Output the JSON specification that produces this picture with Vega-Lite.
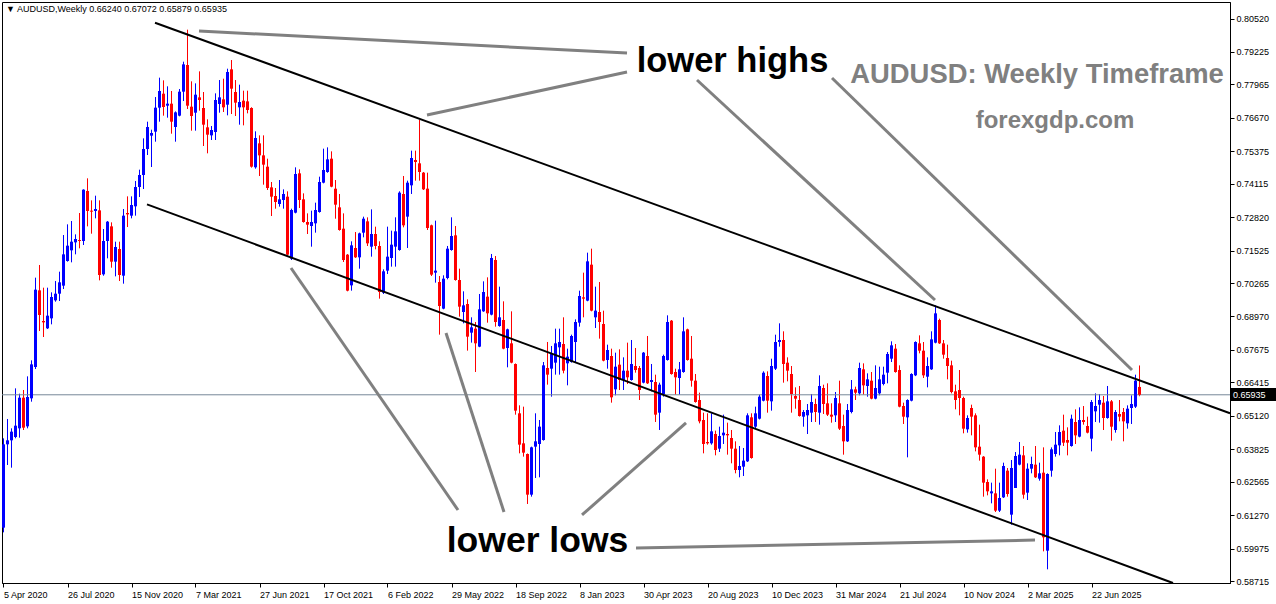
{
"$schema": "https://vega.github.io/schema/vega-lite/v6.json",
"width": 1228, "height": 581,
"autosize": {"type": "none"},
"padding": {"left": 2, "top": 2, "right": 46, "bottom": 21},
"background": "white",
"config": {"view": {"stroke": "black", "strokeWidth": 1}, "font": "Liberation Sans",
"axisX": {"grid": false, "format": "%-d %b %Y", "labelAlign": "left", "labelBaseline": "top", "labelFont": "Liberation Sans", "labelFontSize": 9, "labelColor": "black", "tickColor": "black", "domainColor": "black", "tickSize": 4, "labelPadding": 3, "labelOverlap": false, "labelFlush": false, "title": null},
"axisY": {"grid": false, "format": ".5f", "labelFont": "Liberation Sans", "labelFontSize": 9, "labelColor": "black", "tickColor": "black", "domainColor": "black", "tickSize": 4, "labelPadding": 2, "labelOverlap": false, "labelFlush": false, "title": null}
},
"datasets": {
"candles": [
{"date":"2020-04-05","open":0.60785,"high":0.64247,"low":0.60604,"close":0.64015},
{"date":"2020-04-12","open":0.64015,"high":0.64997,"low":0.63214,"close":0.64170},
{"date":"2020-04-19","open":0.64170,"high":0.64635,"low":0.63110,"close":0.64506},
{"date":"2020-04-26","open":0.64299,"high":0.66185,"low":0.64250,"close":0.64738},
{"date":"2020-05-03","open":0.64635,"high":0.65978,"low":0.64273,"close":0.65823},
{"date":"2020-05-10","open":0.65823,"high":0.66121,"low":0.64570,"close":0.64661},
{"date":"2020-05-17","open":0.64712,"high":0.66650,"low":0.64635,"close":0.65849},
{"date":"2020-05-24","open":0.65798,"high":0.67270,"low":0.65668,"close":0.67115},
{"date":"2020-05-31","open":0.67012,"high":0.70475,"low":0.66935,"close":0.70010},
{"date":"2020-06-07","open":0.69984,"high":0.70966,"low":0.68407,"close":0.69028},
{"date":"2020-06-14","open":0.68795,"high":0.70087,"low":0.68175,"close":0.68743},
{"date":"2020-06-21","open":0.68511,"high":0.70087,"low":0.68485,"close":0.69002},
{"date":"2020-06-28","open":0.68898,"high":0.69906,"low":0.68666,"close":0.69725},
{"date":"2020-07-05","open":0.69596,"high":0.70345,"low":0.69544,"close":0.69854},
{"date":"2020-07-12","open":0.69854,"high":0.70707,"low":0.69570,"close":0.70294},
{"date":"2020-07-19","open":0.70165,"high":0.72128,"low":0.70035,"close":0.71379},
{"date":"2020-07-26","open":0.71121,"high":0.72542,"low":0.71095,"close":0.71715},
{"date":"2020-08-02","open":0.71534,"high":0.72671,"low":0.71069,"close":0.71870},
{"date":"2020-08-09","open":0.71844,"high":0.72154,"low":0.71379,"close":0.71973},
{"date":"2020-08-16","open":0.71935,"high":0.72981,"low":0.71612,"close":0.71896},
{"date":"2020-08-23","open":0.71896,"high":0.73900,"low":0.71741,"close":0.73886},
{"date":"2020-08-30","open":0.73834,"high":0.74325,"low":0.72464,"close":0.73059},
{"date":"2020-09-06","open":0.73072,"high":0.73472,"low":0.72180,"close":0.73033},
{"date":"2020-09-13","open":0.73059,"high":0.73653,"low":0.72774,"close":0.73136},
{"date":"2020-09-20","open":0.73084,"high":0.73472,"low":0.70371,"close":0.70578},
{"date":"2020-09-27","open":0.70604,"high":0.72361,"low":0.70550,"close":0.71896},
{"date":"2020-10-04","open":0.71896,"high":0.72671,"low":0.71224,"close":0.72645},
{"date":"2020-10-11","open":0.72464,"high":0.72619,"low":0.70862,"close":0.71095},
{"date":"2020-10-18","open":0.71095,"high":0.71870,"low":0.70526,"close":0.71663},
{"date":"2020-10-25","open":0.71586,"high":0.71870,"low":0.70345,"close":0.70578},
{"date":"2020-11-01","open":0.70552,"high":0.73136,"low":0.70242,"close":0.72878},
{"date":"2020-11-08","open":0.72981,"high":0.73627,"low":0.72438,"close":0.72929},
{"date":"2020-11-15","open":0.72878,"high":0.73627,"low":0.72774,"close":0.73291},
{"date":"2020-11-22","open":0.73240,"high":0.74221,"low":0.72878,"close":0.73989},
{"date":"2020-11-29","open":0.73989,"high":0.74661,"low":0.73601,"close":0.74454},
{"date":"2020-12-06","open":0.74454,"high":0.75875,"low":0.73911,"close":0.75462},
{"date":"2020-12-13","open":0.75462,"high":0.76521,"low":0.75229,"close":0.76314},
{"date":"2020-12-20","open":0.75979,"high":0.76211,"low":0.74764,"close":0.76082},
{"date":"2020-12-27","open":0.76134,"high":0.77477,"low":0.75746,"close":0.77064},
{"date":"2021-01-03","open":0.77064,"high":0.78227,"low":0.76521,"close":0.77710},
{"date":"2021-01-10","open":0.77606,"high":0.78123,"low":0.76754,"close":0.77090},
{"date":"2021-01-17","open":0.77141,"high":0.77891,"low":0.76676,"close":0.77219},
{"date":"2021-01-24","open":0.77219,"high":0.77710,"low":0.76056,"close":0.76521},
{"date":"2021-01-31","open":0.76314,"high":0.76920,"low":0.75746,"close":0.76883},
{"date":"2021-02-07","open":0.76754,"high":0.77787,"low":0.76728,"close":0.77684},
{"date":"2021-02-14","open":0.77684,"high":0.78847,"low":0.77322,"close":0.78743},
{"date":"2021-02-21","open":0.78718,"high":0.80087,"low":0.77012,"close":0.77141},
{"date":"2021-02-28","open":0.77103,"high":0.78085,"low":0.76172,"close":0.76741},
{"date":"2021-03-07","open":0.76870,"high":0.78007,"low":0.76172,"close":0.77568},
{"date":"2021-03-14","open":0.77464,"high":0.78472,"low":0.76948,"close":0.77361},
{"date":"2021-03-21","open":0.77051,"high":0.77671,"low":0.75578,"close":0.76405},
{"date":"2021-03-28","open":0.76302,"high":0.76612,"low":0.75294,"close":0.76017},
{"date":"2021-04-04","open":0.75991,"high":0.76353,"low":0.75811,"close":0.76198},
{"date":"2021-04-11","open":0.76121,"high":0.77619,"low":0.75811,"close":0.77361},
{"date":"2021-04-18","open":0.77206,"high":0.78136,"low":0.76870,"close":0.77464},
{"date":"2021-04-25","open":0.77387,"high":0.78188,"low":0.76896,"close":0.77077},
{"date":"2021-05-02","open":0.77180,"high":0.78575,"low":0.76767,"close":0.78446},
{"date":"2021-05-09","open":0.78550,"high":0.78911,"low":0.76818,"close":0.77800},
{"date":"2021-05-16","open":0.77671,"high":0.78136,"low":0.76741,"close":0.77258},
{"date":"2021-05-23","open":0.77077,"high":0.77955,"low":0.76405,"close":0.77283},
{"date":"2021-05-30","open":0.77335,"high":0.77723,"low":0.76379,"close":0.77077},
{"date":"2021-06-06","open":0.77309,"high":0.77723,"low":0.76844,"close":0.76973},
{"date":"2021-06-13","open":0.77051,"high":0.77080,"low":0.74740,"close":0.74777},
{"date":"2021-06-20","open":0.74751,"high":0.76147,"low":0.74699,"close":0.75888},
{"date":"2021-06-27","open":0.75681,"high":0.75991,"low":0.74415,"close":0.75216},
{"date":"2021-07-04","open":0.75216,"high":0.75991,"low":0.74079,"close":0.74855},
{"date":"2021-07-11","open":0.74777,"high":0.75087,"low":0.73873,"close":0.73950},
{"date":"2021-07-18","open":0.73976,"high":0.74183,"low":0.72865,"close":0.73614},
{"date":"2021-07-25","open":0.73640,"high":0.73950,"low":0.73149,"close":0.73407},
{"date":"2021-08-01","open":0.73330,"high":0.74260,"low":0.73227,"close":0.73511},
{"date":"2021-08-08","open":0.73485,"high":0.73898,"low":0.73149,"close":0.73718},
{"date":"2021-08-15","open":0.73614,"high":0.73821,"low":0.71340,"close":0.71366},
{"date":"2021-08-22","open":0.71211,"high":0.73149,"low":0.71159,"close":0.73097},
{"date":"2021-08-29","open":0.72994,"high":0.74751,"low":0.72968,"close":0.74493},
{"date":"2021-09-05","open":0.74519,"high":0.74674,"low":0.73175,"close":0.73485},
{"date":"2021-09-12","open":0.73511,"high":0.73743,"low":0.72606,"close":0.72632},
{"date":"2021-09-19","open":0.72632,"high":0.72968,"low":0.72167,"close":0.72529},
{"date":"2021-09-26","open":0.72477,"high":0.73072,"low":0.71676,"close":0.72632},
{"date":"2021-10-03","open":0.72581,"high":0.73382,"low":0.72219,"close":0.73097},
{"date":"2021-10-10","open":0.73020,"high":0.74389,"low":0.72994,"close":0.74183},
{"date":"2021-10-17","open":0.74157,"high":0.75475,"low":0.74131,"close":0.74648},
{"date":"2021-10-24","open":0.74570,"high":0.75526,"low":0.74540,"close":0.75061},
{"date":"2021-10-31","open":0.75087,"high":0.75371,"low":0.73980,"close":0.74002},
{"date":"2021-11-07","open":0.73924,"high":0.74260,"low":0.72761,"close":0.73304},
{"date":"2021-11-14","open":0.73201,"high":0.73718,"low":0.72296,"close":0.72322},
{"date":"2021-11-21","open":0.72374,"high":0.72968,"low":0.71082,"close":0.71159},
{"date":"2021-11-28","open":0.71366,"high":0.71390,"low":0.69945,"close":0.69971},
{"date":"2021-12-05","open":0.70177,"high":0.71883,"low":0.69971,"close":0.71728},
{"date":"2021-12-12","open":0.71625,"high":0.72245,"low":0.71240,"close":0.71263},
{"date":"2021-12-19","open":0.71263,"high":0.72220,"low":0.70823,"close":0.72193},
{"date":"2021-12-26","open":0.72219,"high":0.72839,"low":0.72038,"close":0.72761},
{"date":"2022-01-02","open":0.72658,"high":0.72813,"low":0.71702,"close":0.71805},
{"date":"2022-01-09","open":0.71676,"high":0.73123,"low":0.71289,"close":0.72167},
{"date":"2022-01-16","open":0.72167,"high":0.72451,"low":0.71573,"close":0.71702},
{"date":"2022-01-23","open":0.71703,"high":0.71884,"low":0.69661,"close":0.69920},
{"date":"2022-01-30","open":0.69894,"high":0.70798,"low":0.69842,"close":0.70721},
{"date":"2022-02-06","open":0.70747,"high":0.72452,"low":0.70617,"close":0.71289},
{"date":"2022-02-13","open":0.71238,"high":0.72297,"low":0.70902,"close":0.71754},
{"date":"2022-02-20","open":0.71677,"high":0.72814,"low":0.70902,"close":0.72271},
{"date":"2022-02-27","open":0.71548,"high":0.73822,"low":0.71520,"close":0.73770},
{"date":"2022-03-06","open":0.73718,"high":0.74416,"low":0.72426,"close":0.72504},
{"date":"2022-03-13","open":0.72840,"high":0.74235,"low":0.71625,"close":0.74157},
{"date":"2022-03-20","open":0.74054,"high":0.75398,"low":0.73718,"close":0.75114},
{"date":"2022-03-27","open":0.75036,"high":0.75398,"low":0.74235,"close":0.74958},
{"date":"2022-04-03","open":0.74907,"high":0.76586,"low":0.74235,"close":0.74571},
{"date":"2022-04-10","open":0.74545,"high":0.74571,"low":0.73873,"close":0.73899},
{"date":"2022-04-17","open":0.73925,"high":0.74545,"low":0.72323,"close":0.72400},
{"date":"2022-04-24","open":0.72504,"high":0.72530,"low":0.70540,"close":0.70592},
{"date":"2022-05-01","open":0.70669,"high":0.72685,"low":0.70281,"close":0.70747},
{"date":"2022-05-08","open":0.70307,"high":0.70540,"low":0.68266,"close":0.69377},
{"date":"2022-05-15","open":0.69274,"high":0.70566,"low":0.69250,"close":0.70436},
{"date":"2022-05-22","open":0.70462,"high":0.71703,"low":0.70411,"close":0.71599},
{"date":"2022-05-29","open":0.71548,"high":0.72814,"low":0.71520,"close":0.72090},
{"date":"2022-06-05","open":0.72116,"high":0.72478,"low":0.70359,"close":0.70385},
{"date":"2022-06-12","open":0.70385,"high":0.70824,"low":0.68964,"close":0.69351},
{"date":"2022-06-19","open":0.69144,"high":0.69946,"low":0.68705,"close":0.69403},
{"date":"2022-06-26","open":0.69455,"high":0.69635,"low":0.67646,"close":0.68188},
{"date":"2022-07-03","open":0.68343,"high":0.68938,"low":0.67956,"close":0.68550},
{"date":"2022-07-10","open":0.68498,"high":0.68757,"low":0.66819,"close":0.67930},
{"date":"2022-07-17","open":0.67801,"high":0.69842,"low":0.67780,"close":0.69248},
{"date":"2022-07-24","open":0.69170,"high":0.70333,"low":0.69150,"close":0.69920},
{"date":"2022-07-31","open":0.69739,"high":0.70488,"low":0.68731,"close":0.69093},
{"date":"2022-08-07","open":0.69041,"high":0.71393,"low":0.69015,"close":0.71238},
{"date":"2022-08-14","open":0.71160,"high":0.71315,"low":0.68576,"close":0.68757},
{"date":"2022-08-21","open":0.68602,"high":0.70126,"low":0.68576,"close":0.68938},
{"date":"2022-08-28","open":0.68834,"high":0.69558,"low":0.67700,"close":0.67723},
{"date":"2022-09-04","open":0.67749,"high":0.68498,"low":0.67000,"close":0.68473},
{"date":"2022-09-11","open":0.67930,"high":0.69170,"low":0.67155,"close":0.67181},
{"date":"2022-09-18","open":0.67129,"high":0.67150,"low":0.65165,"close":0.65320},
{"date":"2022-09-25","open":0.65217,"high":0.65527,"low":0.63666,"close":0.64002},
{"date":"2022-10-02","open":0.64054,"high":0.65475,"low":0.63537,"close":0.63692},
{"date":"2022-10-09","open":0.63641,"high":0.63660,"low":0.61703,"close":0.62064},
{"date":"2022-10-16","open":0.62064,"high":0.63925,"low":0.61987,"close":0.63899},
{"date":"2022-10-23","open":0.63925,"high":0.65217,"low":0.62710,"close":0.64132},
{"date":"2022-10-30","open":0.64028,"high":0.64958,"low":0.62736,"close":0.64700},
{"date":"2022-11-06","open":0.64183,"high":0.67206,"low":0.64157,"close":0.67077},
{"date":"2022-11-13","open":0.66974,"high":0.67982,"low":0.66328,"close":0.66716},
{"date":"2022-11-20","open":0.66948,"high":0.67827,"low":0.65863,"close":0.67517},
{"date":"2022-11-27","open":0.67181,"high":0.68498,"low":0.66716,"close":0.67930},
{"date":"2022-12-04","open":0.67775,"high":0.68498,"low":0.66716,"close":0.67982},
{"date":"2022-12-11","open":0.67904,"high":0.68938,"low":0.66767,"close":0.66871},
{"date":"2022-12-18","open":0.67155,"high":0.67723,"low":0.66302,"close":0.67413},
{"date":"2022-12-25","open":0.67206,"high":0.68266,"low":0.67180,"close":0.68214},
{"date":"2023-01-01","open":0.67981,"high":0.68860,"low":0.67206,"close":0.68757},
{"date":"2023-01-08","open":0.68731,"high":0.69971,"low":0.68576,"close":0.69764},
{"date":"2023-01-15","open":0.69713,"high":0.70669,"low":0.68938,"close":0.69661},
{"date":"2023-01-22","open":0.69584,"high":0.71444,"low":0.69560,"close":0.71108},
{"date":"2023-01-29","open":0.70979,"high":0.71599,"low":0.69170,"close":0.69196},
{"date":"2023-02-05","open":0.68938,"high":0.70126,"low":0.68524,"close":0.69196},
{"date":"2023-02-12","open":0.69144,"high":0.70307,"low":0.68111,"close":0.68757},
{"date":"2023-02-19","open":0.68679,"high":0.69196,"low":0.67232,"close":0.67258},
{"date":"2023-02-26","open":0.67284,"high":0.67878,"low":0.66948,"close":0.67671},
{"date":"2023-03-05","open":0.67439,"high":0.67723,"low":0.65630,"close":0.65837},
{"date":"2023-03-12","open":0.66147,"high":0.67568,"low":0.65914,"close":0.67025},
{"date":"2023-03-19","open":0.67103,"high":0.67697,"low":0.66121,"close":0.66509},
{"date":"2023-03-26","open":0.66509,"high":0.67387,"low":0.66121,"close":0.66870},
{"date":"2023-04-02","open":0.66870,"high":0.67956,"low":0.66354,"close":0.66612},
{"date":"2023-04-09","open":0.66509,"high":0.68059,"low":0.66483,"close":0.67129},
{"date":"2023-04-16","open":0.67051,"high":0.67749,"low":0.66793,"close":0.66896},
{"date":"2023-04-23","open":0.66974,"high":0.67051,"low":0.65733,"close":0.66121},
{"date":"2023-04-30","open":0.66405,"high":0.67594,"low":0.66379,"close":0.67568},
{"date":"2023-05-07","open":0.67439,"high":0.68214,"low":0.66354,"close":0.66379},
{"date":"2023-05-14","open":0.66431,"high":0.67129,"low":0.66069,"close":0.66509},
{"date":"2023-05-21","open":0.66431,"high":0.66715,"low":0.64881,"close":0.65165},
{"date":"2023-05-28","open":0.65242,"high":0.66405,"low":0.64571,"close":0.66328},
{"date":"2023-06-04","open":0.65966,"high":0.67491,"low":0.65863,"close":0.67439},
{"date":"2023-06-11","open":0.67284,"high":0.69015,"low":0.67260,"close":0.68757},
{"date":"2023-06-18","open":0.68808,"high":0.68834,"low":0.66715,"close":0.66741},
{"date":"2023-06-25","open":0.66819,"high":0.66948,"low":0.65940,"close":0.66612},
{"date":"2023-07-02","open":0.66586,"high":0.67206,"low":0.65940,"close":0.66922},
{"date":"2023-07-09","open":0.66819,"high":0.68938,"low":0.66790,"close":0.68395},
{"date":"2023-07-16","open":0.68472,"high":0.68498,"low":0.67258,"close":0.67284},
{"date":"2023-07-23","open":0.67335,"high":0.68214,"low":0.66250,"close":0.66483},
{"date":"2023-07-30","open":0.66483,"high":0.66741,"low":0.65630,"close":0.65656},
{"date":"2023-08-06","open":0.65733,"high":0.66018,"low":0.64829,"close":0.64907},
{"date":"2023-08-13","open":0.64958,"high":0.65242,"low":0.63666,"close":0.64028},
{"date":"2023-08-20","open":0.64105,"high":0.65217,"low":0.64002,"close":0.64054},
{"date":"2023-08-27","open":0.64054,"high":0.65217,"low":0.64002,"close":0.64519},
{"date":"2023-09-03","open":0.64416,"high":0.64545,"low":0.63589,"close":0.63795},
{"date":"2023-09-10","open":0.63847,"high":0.64700,"low":0.63718,"close":0.64338},
{"date":"2023-09-17","open":0.64364,"high":0.65165,"low":0.64028,"close":0.64467},
{"date":"2023-09-24","open":0.64416,"high":0.64855,"low":0.63615,"close":0.64364},
{"date":"2023-10-01","open":0.64261,"high":0.64571,"low":0.63279,"close":0.63847},
{"date":"2023-10-08","open":0.63847,"high":0.64131,"low":0.62891,"close":0.63020},
{"date":"2023-10-15","open":0.63020,"high":0.63950,"low":0.62736,"close":0.63175},
{"date":"2023-10-22","open":0.63149,"high":0.63873,"low":0.62788,"close":0.63382},
{"date":"2023-10-29","open":0.63356,"high":0.65217,"low":0.63330,"close":0.65139},
{"date":"2023-11-05","open":0.65062,"high":0.65217,"low":0.63459,"close":0.63485},
{"date":"2023-11-12","open":0.64700,"high":0.65475,"low":0.64648,"close":0.65217},
{"date":"2023-11-19","open":0.65009,"high":0.65940,"low":0.64980,"close":0.65862},
{"date":"2023-11-26","open":0.65707,"high":0.66844,"low":0.65680,"close":0.66792},
{"date":"2023-12-03","open":0.66663,"high":0.66844,"low":0.65242,"close":0.65707},
{"date":"2023-12-10","open":0.65681,"high":0.67335,"low":0.65320,"close":0.67051},
{"date":"2023-12-17","open":0.66947,"high":0.68265,"low":0.66896,"close":0.67981},
{"date":"2023-12-24","open":0.67981,"high":0.68705,"low":0.67800,"close":0.68059},
{"date":"2023-12-31","open":0.68059,"high":0.68395,"low":0.66405,"close":0.67128},
{"date":"2024-01-07","open":0.67180,"high":0.67387,"low":0.66457,"close":0.66870},
{"date":"2024-01-14","open":0.66741,"high":0.67051,"low":0.65242,"close":0.65966},
{"date":"2024-01-21","open":0.65888,"high":0.66224,"low":0.65397,"close":0.65785},
{"date":"2024-01-28","open":0.65733,"high":0.66276,"low":0.65090,"close":0.65113},
{"date":"2024-02-04","open":0.65087,"high":0.65345,"low":0.64699,"close":0.65268},
{"date":"2024-02-11","open":0.65139,"high":0.65578,"low":0.64415,"close":0.65345},
{"date":"2024-02-18","open":0.65242,"high":0.65966,"low":0.64880,"close":0.65655},
{"date":"2024-02-25","open":0.65578,"high":0.65785,"low":0.64880,"close":0.65268},
{"date":"2024-03-03","open":0.65242,"high":0.66689,"low":0.64777,"close":0.66276},
{"date":"2024-03-10","open":0.66198,"high":0.66327,"low":0.65190,"close":0.65578},
{"date":"2024-03-17","open":0.65604,"high":0.66379,"low":0.65113,"close":0.65165},
{"date":"2024-03-24","open":0.65165,"high":0.65604,"low":0.64854,"close":0.65087},
{"date":"2024-03-31","open":0.65139,"high":0.66043,"low":0.64880,"close":0.65811},
{"date":"2024-04-07","open":0.65604,"high":0.66482,"low":0.64570,"close":0.64622},
{"date":"2024-04-14","open":0.64725,"high":0.65165,"low":0.63614,"close":0.64131},
{"date":"2024-04-21","open":0.64131,"high":0.65578,"low":0.64105,"close":0.65345},
{"date":"2024-04-28","open":0.65268,"high":0.66508,"low":0.65216,"close":0.66146},
{"date":"2024-05-05","open":0.66146,"high":0.66250,"low":0.65733,"close":0.66017},
{"date":"2024-05-12","open":0.65991,"high":0.67180,"low":0.65914,"close":0.66973},
{"date":"2024-05-19","open":0.66922,"high":0.67154,"low":0.65940,"close":0.66301},
{"date":"2024-05-26","open":0.66276,"high":0.66767,"low":0.65862,"close":0.66534},
{"date":"2024-06-02","open":0.66482,"high":0.66818,"low":0.65760,"close":0.65785},
{"date":"2024-06-09","open":0.65785,"high":0.67077,"low":0.65760,"close":0.66198},
{"date":"2024-06-16","open":0.65991,"high":0.67025,"low":0.65914,"close":0.66534},
{"date":"2024-06-23","open":0.66353,"high":0.67025,"low":0.66301,"close":0.66715},
{"date":"2024-06-30","open":0.66792,"high":0.67593,"low":0.66379,"close":0.67516},
{"date":"2024-07-07","open":0.67335,"high":0.68007,"low":0.67206,"close":0.67852},
{"date":"2024-07-14","open":0.67723,"high":0.67904,"low":0.66792,"close":0.66818},
{"date":"2024-07-21","open":0.66896,"high":0.67077,"low":0.65450,"close":0.65475},
{"date":"2024-07-28","open":0.65500,"high":0.65630,"low":0.64803,"close":0.65087},
{"date":"2024-08-04","open":0.65061,"high":0.65760,"low":0.63511,"close":0.65733},
{"date":"2024-08-11","open":0.65707,"high":0.66770,"low":0.65681,"close":0.66741},
{"date":"2024-08-18","open":0.66689,"high":0.68007,"low":0.66660,"close":0.67981},
{"date":"2024-08-25","open":0.67929,"high":0.68239,"low":0.67542,"close":0.67645},
{"date":"2024-09-01","open":0.67645,"high":0.67981,"low":0.66586,"close":0.66689},
{"date":"2024-09-08","open":0.66637,"high":0.67387,"low":0.66224,"close":0.67051},
{"date":"2024-09-15","open":0.66922,"high":0.68395,"low":0.66900,"close":0.68084},
{"date":"2024-09-22","open":0.67955,"high":0.69402,"low":0.67929,"close":0.69092},
{"date":"2024-09-29","open":0.68834,"high":0.68885,"low":0.67904,"close":0.67929},
{"date":"2024-10-06","open":0.67929,"high":0.68059,"low":0.67335,"close":0.67490},
{"date":"2024-10-13","open":0.67361,"high":0.67878,"low":0.66534,"close":0.67051},
{"date":"2024-10-20","open":0.67077,"high":0.67258,"low":0.65991,"close":0.66043},
{"date":"2024-10-27","open":0.66069,"high":0.66327,"low":0.65371,"close":0.65733},
{"date":"2024-11-03","open":0.66121,"high":0.66896,"low":0.65139,"close":0.65811},
{"date":"2024-11-10","open":0.65811,"high":0.65862,"low":0.64441,"close":0.64622},
{"date":"2024-11-17","open":0.64596,"high":0.65139,"low":0.64467,"close":0.65035},
{"date":"2024-11-24","open":0.65423,"high":0.65552,"low":0.64363,"close":0.65087},
{"date":"2024-12-01","open":0.65139,"high":0.65216,"low":0.63743,"close":0.63898},
{"date":"2024-12-08","open":0.63924,"high":0.64777,"low":0.63382,"close":0.63614},
{"date":"2024-12-15","open":0.63537,"high":0.63560,"low":0.61986,"close":0.62529},
{"date":"2024-12-22","open":0.62555,"high":0.62658,"low":0.62038,"close":0.62193},
{"date":"2024-12-29","open":0.62115,"high":0.62529,"low":0.61728,"close":0.62193},
{"date":"2025-01-05","open":0.62115,"high":0.63071,"low":0.61392,"close":0.61444},
{"date":"2025-01-12","open":0.61444,"high":0.62529,"low":0.61392,"close":0.61935},
{"date":"2025-01-19","open":0.61960,"high":0.63304,"low":0.61935,"close":0.63175},
{"date":"2025-01-26","open":0.62994,"high":0.63097,"low":0.61986,"close":0.62090},
{"date":"2025-02-02","open":0.61289,"high":0.63407,"low":0.60901,"close":0.63097},
{"date":"2025-02-09","open":0.62322,"high":0.63717,"low":0.62322,"close":0.63562},
{"date":"2025-02-16","open":0.63227,"high":0.64105,"low":0.63201,"close":0.63614},
{"date":"2025-02-23","open":0.63588,"high":0.63950,"low":0.61909,"close":0.62064},
{"date":"2025-03-02","open":0.62141,"high":0.63278,"low":0.61857,"close":0.63071},
{"date":"2025-03-09","open":0.63071,"high":0.63537,"low":0.62891,"close":0.63252},
{"date":"2025-03-16","open":0.63227,"high":0.63950,"low":0.62710,"close":0.62736},
{"date":"2025-03-23","open":0.62684,"high":0.63304,"low":0.62606,"close":0.62891},
{"date":"2025-03-30","open":0.62916,"high":0.63898,"low":0.59867,"close":0.60410},
{"date":"2025-04-06","open":0.59893,"high":0.62891,"low":0.59170,"close":0.62865},
{"date":"2025-04-13","open":0.62994,"high":0.63898,"low":0.62761,"close":0.63821},
{"date":"2025-04-20","open":0.63640,"high":0.64493,"low":0.63537,"close":0.64002},
{"date":"2025-04-27","open":0.63976,"high":0.64751,"low":0.63588,"close":0.64493},
{"date":"2025-05-04","open":0.64544,"high":0.65165,"low":0.63950,"close":0.64079},
{"date":"2025-05-11","open":0.64183,"high":0.64674,"low":0.63588,"close":0.64079},
{"date":"2025-05-18","open":0.63950,"high":0.65165,"low":0.63924,"close":0.65009},
{"date":"2025-05-25","open":0.64880,"high":0.65371,"low":0.64028,"close":0.64363},
{"date":"2025-06-01","open":0.64312,"high":0.65449,"low":0.64286,"close":0.64958},
{"date":"2025-06-08","open":0.64958,"high":0.65500,"low":0.64777,"close":0.64880},
{"date":"2025-06-15","open":0.64725,"high":0.65087,"low":0.64440,"close":0.64467},
{"date":"2025-06-22","open":0.64234,"high":0.65733,"low":0.63743,"close":0.65655},
{"date":"2025-06-29","open":0.65294,"high":0.65991,"low":0.64880,"close":0.65500},
{"date":"2025-07-06","open":0.65552,"high":0.65966,"low":0.64854,"close":0.65733},
{"date":"2025-07-13","open":0.65630,"high":0.65888,"low":0.64570,"close":0.65035},
{"date":"2025-07-20","open":0.65035,"high":0.66276,"low":0.65009,"close":0.65681},
{"date":"2025-07-27","open":0.65681,"high":0.65733,"low":0.64157,"close":0.64699},
{"date":"2025-08-03","open":0.64570,"high":0.65345,"low":0.64467,"close":0.65268},
{"date":"2025-08-10","open":0.65190,"high":0.65733,"low":0.64906,"close":0.65087},
{"date":"2025-08-17","open":0.65268,"high":0.65423,"low":0.64131,"close":0.64906},
{"date":"2025-08-24","open":0.64829,"high":0.65526,"low":0.64622,"close":0.65397},
{"date":"2025-08-31","open":0.65423,"high":0.65914,"low":0.64803,"close":0.65578},
{"date":"2025-09-07","open":0.65475,"high":0.66715,"low":0.65423,"close":0.66482},
{"date":"2025-09-14","open":0.66240,"high":0.67072,"low":0.65879,"close":0.65935}
],
"channel": [
{"line":"upper","date":"2020-12-26T03:00:00Z","price":0.80357},
{"line":"upper","date":"2026-02-19T09:00:00Z","price":0.65218},
{"line":"lower","date":"2020-12-12T03:00:00Z","price":0.73318},
{"line":"lower","date":"2025-11-11T15:00:00Z","price":0.5864}
],
"pointers": [
{"id":"h1","date":"2021-03-13T03:00:00Z","price":0.80035},
{"id":"h1","date":"2023-04-01T03:00:00Z","price":0.79183},
{"id":"h2","date":"2022-04-16T03:00:00Z","price":0.76780},
{"id":"h2","date":"2023-04-01T03:00:00Z","price":0.78446},
{"id":"h3","date":"2023-08-01T15:00:00Z","price":0.78136},
{"id":"h3","date":"2024-09-21T03:00:00Z","price":0.69609},
{"id":"h4","date":"2024-03-24T21:00:00Z","price":0.78214},
{"id":"h4","date":"2025-08-31T21:00:00Z","price":0.66896},
{"id":"l1","date":"2021-08-21T03:00:00Z","price":0.70849},
{"id":"l1","date":"2022-06-09T09:00:00Z","price":0.61469},
{"id":"l2","date":"2022-05-19T09:00:00Z","price":0.68330},
{"id":"l2","date":"2022-08-28T21:00:00Z","price":0.61392},
{"id":"l3","date":"2023-01-12T09:00:00Z","price":0.61276},
{"id":"l3","date":"2023-07-13T09:00:00Z","price":0.64842},
{"id":"l4","date":"2023-04-16T21:00:00Z","price":0.59996},
{"id":"l4","date":"2025-03-15T03:00:00Z","price":0.60304}
]
},
"layer": [
{
"data": {"name": "candles"},
"mark": {"type": "rule", "strokeWidth": 1},
"encoding": {
"x": {"field": "date", "type": "temporal", "title": null,
"scale": {"type": "utc", "nice": false, "domain": [{"year": 2020, "month": 4, "date": 2, "hours": 9, "utc": true}, {"year": 2026, "month": 2, "date": 19, "hours": 9, "utc": true}]},
"axis": {"formatType": "utc", "labelOverlap": false, "labelFlush": false, "tickCount": 60,
"values": [
{"year":2020,"month":4,"date":5,"utc":true},{"year":2020,"month":7,"date":26,"utc":true},{"year":2020,"month":11,"date":15,"utc":true},
{"year":2021,"month":3,"date":7,"utc":true},{"year":2021,"month":6,"date":27,"utc":true},{"year":2021,"month":10,"date":17,"utc":true},
{"year":2022,"month":2,"date":6,"utc":true},{"year":2022,"month":5,"date":29,"utc":true},{"year":2022,"month":9,"date":18,"utc":true},
{"year":2023,"month":1,"date":8,"utc":true},{"year":2023,"month":4,"date":30,"utc":true},{"year":2023,"month":8,"date":20,"utc":true},
{"year":2023,"month":12,"date":10,"utc":true},{"year":2024,"month":3,"date":31,"utc":true},{"year":2024,"month":7,"date":21,"utc":true},
{"year":2024,"month":11,"date":10,"utc":true},{"year":2025,"month":3,"date":2,"utc":true},{"year":2025,"month":6,"date":22,"utc":true}
]}},
"y": {"field": "low", "type": "quantitative", "title": null, "scale": {"domain": [0.5864, 0.8116], "zero": false, "nice": false},
"axis": {"orient": "right", "labelOverlap": false, "labelFlush": false, "labelBound": false, "tickCount": 60,
"values": [0.80520, 0.79225, 0.77965, 0.76670, 0.75375, 0.74115, 0.72820, 0.71525, 0.70265, 0.68970, 0.67675, 0.66415, 0.65120, 0.63825, 0.62565, 0.61270, 0.59975, 0.58715]}},
"y2": {"field": "high"},
"color": {"condition": {"test": "datum.close >= datum.open", "value": "#0000FF"}, "value": "#FF0000"}
}
},
{
"data": {"values": [{"price": 0.65935}]},
"mark": {"type": "rule", "color": "#778899", "strokeWidth": 1},
"encoding": {
"y": {"field": "price", "type": "quantitative", "title": null, "scale": {"domain": [0.5864, 0.8116], "zero": false, "nice": false}}
}
},
{
"data": {"name": "candles"},
"mark": {"type": "rule", "strokeWidth": 3, "strokeCap": "butt"},
"encoding": {
"x": {"field": "date", "type": "temporal", "title": null, "scale": {"type": "utc", "nice": false, "domain": [{"year": 2020, "month": 4, "date": 2, "hours": 9, "utc": true}, {"year": 2026, "month": 2, "date": 19, "hours": 9, "utc": true}]}},
"y": {"field": "open", "type": "quantitative", "title": null, "scale": {"domain": [0.5864, 0.8116], "zero": false, "nice": false}},
"y2": {"field": "close"},
"color": {"condition": {"test": "datum.close >= datum.open", "value": "#0000FF"}, "value": "#FF0000"}
}
},
{
"data": {"name": "channel"},
"mark": {"type": "line", "color": "black", "strokeWidth": 2},
"encoding": {
"x": {"field": "date", "type": "temporal", "title": null, "scale": {"type": "utc", "nice": false, "domain": [{"year": 2020, "month": 4, "date": 2, "hours": 9, "utc": true}, {"year": 2026, "month": 2, "date": 19, "hours": 9, "utc": true}]}},
"y": {"field": "price", "type": "quantitative", "title": null, "scale": {"domain": [0.5864, 0.8116], "zero": false, "nice": false}},
"detail": {"field": "line"}
}
},
{
"data": {"name": "pointers"},
"mark": {"type": "line", "color": "#808080", "strokeWidth": 3, "strokeCap": "butt"},
"encoding": {
"x": {"field": "date", "type": "temporal", "title": null, "scale": {"type": "utc", "nice": false, "domain": [{"year": 2020, "month": 4, "date": 2, "hours": 9, "utc": true}, {"year": 2026, "month": 2, "date": 19, "hours": 9, "utc": true}]}},
"y": {"field": "price", "type": "quantitative", "title": null, "scale": {"domain": [0.5864, 0.8116], "zero": false, "nice": false}},
"detail": {"field": "id"}
}
},
{
"data": {"values": [{"text": "lower highs", "date": "2023-10-02T18:00:00Z", "price": 0.78834}]},
"mark": {"type": "text", "font": "Liberation Sans", "fontWeight": "bold", "fontSize": 34.5, "color": "black", "align": "center", "baseline": "middle"},
"encoding": {
"x": {"field": "date", "type": "temporal", "title": null, "scale": {"type": "utc", "nice": false, "domain": [{"year": 2020, "month": 4, "date": 2, "hours": 9, "utc": true}, {"year": 2026, "month": 2, "date": 19, "hours": 9, "utc": true}]}},
"y": {"field": "price", "type": "quantitative", "title": null, "scale": {"domain": [0.5864, 0.8116], "zero": false, "nice": false}},
"text": {"field": "text"}
}
},
{
"data": {"values": [{"text": "lower lows", "date": "2022-10-26T12:00:00Z", "price": 0.60268}]},
"mark": {"type": "text", "font": "Liberation Sans", "fontWeight": "bold", "fontSize": 35.5, "color": "black", "align": "center", "baseline": "middle"},
"encoding": {
"x": {"field": "date", "type": "temporal", "title": null, "scale": {"type": "utc", "nice": false, "domain": [{"year": 2020, "month": 4, "date": 2, "hours": 9, "utc": true}, {"year": 2026, "month": 2, "date": 19, "hours": 9, "utc": true}]}},
"y": {"field": "price", "type": "quantitative", "title": null, "scale": {"domain": [0.5864, 0.8116], "zero": false, "nice": false}},
"text": {"field": "text"}
}
},
{
"data": {"values": [{"text": "AUDUSD: Weekly Timeframe", "date": "2025-03-18T15:00:00Z", "price": 0.78330}]},
"mark": {"type": "text", "font": "Liberation Sans", "fontWeight": "bold", "fontSize": 27.4, "color": "#808080", "align": "center", "baseline": "middle"},
"encoding": {
"x": {"field": "date", "type": "temporal", "title": null, "scale": {"type": "utc", "nice": false, "domain": [{"year": 2020, "month": 4, "date": 2, "hours": 9, "utc": true}, {"year": 2026, "month": 2, "date": 19, "hours": 9, "utc": true}]}},
"y": {"field": "price", "type": "quantitative", "title": null, "scale": {"domain": [0.5864, 0.8116], "zero": false, "nice": false}},
"text": {"field": "text"}
}
},
{
"data": {"values": [{"text": "forexgdp.com", "date": "2025-04-19T03:00:00Z", "price": 0.76547}]},
"mark": {"type": "text", "font": "Liberation Sans", "fontWeight": "bold", "fontSize": 24, "color": "#808080", "align": "center", "baseline": "middle"},
"encoding": {
"x": {"field": "date", "type": "temporal", "title": null, "scale": {"type": "utc", "nice": false, "domain": [{"year": 2020, "month": 4, "date": 2, "hours": 9, "utc": true}, {"year": 2026, "month": 2, "date": 19, "hours": 9, "utc": true}]}},
"y": {"field": "price", "type": "quantitative", "title": null, "scale": {"domain": [0.5864, 0.8116], "zero": false, "nice": false}},
"text": {"field": "text"}
}
},
{
"data": {"values": [{"text": "▼ AUDUSD,Weekly  0.66240 0.67072 0.65879 0.65935", "date": "2020-04-09T09:00:00Z", "price": 0.80888}]},
"mark": {"type": "text", "font": "Liberation Sans", "fontSize": 9, "color": "black", "align": "left", "baseline": "middle"},
"encoding": {
"x": {"field": "date", "type": "temporal", "title": null, "scale": {"type": "utc", "nice": false, "domain": [{"year": 2020, "month": 4, "date": 2, "hours": 9, "utc": true}, {"year": 2026, "month": 2, "date": 19, "hours": 9, "utc": true}]}},
"y": {"field": "price", "type": "quantitative", "title": null, "scale": {"domain": [0.5864, 0.8116], "zero": false, "nice": false}},
"text": {"field": "text"}
}
},
{
"data": {"values": [{"start": "2026-02-21T03:00:00Z", "end": "2026-05-10T21:00:00Z", "top": 0.66198, "bottom": 0.65694}]},
"mark": {"type": "rect", "color": "black"},
"encoding": {
"x": {"field": "start", "type": "temporal", "title": null, "scale": {"type": "utc", "nice": false, "domain": [{"year": 2020, "month": 4, "date": 2, "hours": 9, "utc": true}, {"year": 2026, "month": 2, "date": 19, "hours": 9, "utc": true}]}},
"x2": {"field": "end"},
"y": {"field": "top", "type": "quantitative", "title": null, "scale": {"domain": [0.5864, 0.8116], "zero": false, "nice": false}},
"y2": {"field": "bottom"}
}
},
{
"data": {"values": [{"text": "0.65935", "date": "2026-02-24T15:00:00Z", "price": 0.65935}]},
"mark": {"type": "text", "font": "Liberation Sans", "fontSize": 9, "color": "white", "align": "left", "baseline": "middle"},
"encoding": {
"x": {"field": "date", "type": "temporal", "title": null, "scale": {"type": "utc", "nice": false, "domain": [{"year": 2020, "month": 4, "date": 2, "hours": 9, "utc": true}, {"year": 2026, "month": 2, "date": 19, "hours": 9, "utc": true}]}},
"y": {"field": "price", "type": "quantitative", "title": null, "scale": {"domain": [0.5864, 0.8116], "zero": false, "nice": false}},
"text": {"field": "text"}
}
}
]
}
